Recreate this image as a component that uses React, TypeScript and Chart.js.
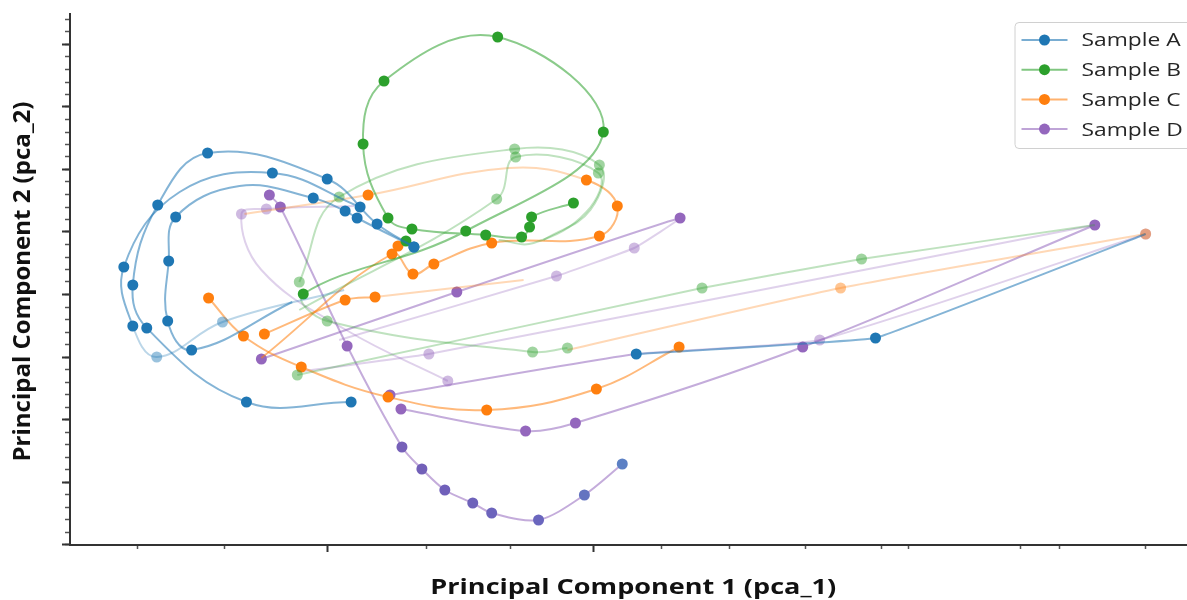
import React, { useEffect, useRef } from 'react';
import { Chart, registerables } from 'chart.js';

Chart.register(...registerables);

// ---- categories / legend ----
const sampleNames = ['Sample A', 'Sample B', 'Sample C', 'Sample D'];
const xTitle = 'Principal Component 1 (pca_1)';
const yTitle = 'Principal Component 2 (pca_2)';

// ---- axis tick values (no labels shown in the reference) ----
const xMinorTicks = [0.68, 1.55, 3.58, 4.42, 5.93, 6.62, 7.38, 8.14, 8.41, 9.53, 9.93, 10.79];
const xMajorTicks = [2.58, 5.25];
const yMinorTicks = Array.from({ length: 43 }, (_, k) => +(0.005 + k * 0.125).toFixed(3));
const yMajorTicks = yMinorTicks.filter((_, k) => k % 5 === 0);

// ---- series: trajectories as [pca_1, pca_2] pairs ----
const sampleA_t1 = [[3.45, 2.98], [3.08, 3.21], [2.58, 3.66], [1.38, 3.92], [0.88, 3.40], [0.63, 2.60], [0.77, 2.17], [1.77, 1.43], [2.82, 1.43]];
const sampleA_t2 = [[2.91, 3.38], [2.03, 3.72], [1.10, 3.53], [0.54, 2.78], [0.63, 2.19], [0.87, 1.88], [1.53, 2.23], [2.75, 2.55]];
const sampleA_t3 = [[3.45, 2.98], [2.88, 3.27], [2.76, 3.34], [2.44, 3.47], [1.70, 3.59], [1.06, 3.28], [0.99, 2.84], [0.98, 2.24], [1.22, 1.95], [2.23, 2.43]];
const sampleA_t4 = [[5.68, 1.91], [8.08, 2.07], [10.79, 3.11]];

const sampleB_t1 = [[5.05, 3.42], [4.63, 3.28], [4.61, 3.18], [4.53, 3.08], [4.17, 3.10], [3.43, 3.16], [3.19, 3.27], [2.94, 4.01], [3.15, 4.64], [4.29, 5.08], [5.35, 4.13], [3.97, 3.14], [2.34, 2.51], [2.58, 2.24], [4.64, 1.93], [4.99, 1.97]];
const sampleB_t2 = [[2.30, 2.63], [2.70, 3.48], [4.46, 3.96], [5.31, 3.80], [5.22, 3.35], [4.75, 3.05]];
const sampleB_t3 = [[2.30, 2.35], [4.28, 3.46], [4.47, 3.88], [5.30, 3.72], [5.18, 3.33], [4.65, 3.02], [4.30, 3.05]];
const sampleB_t4 = [[2.28, 1.70], [6.34, 2.57], [7.94, 2.86], [10.28, 3.20]];
const sampleB_t5 = [[3.37, 3.04]];

const sampleC_t1 = [[1.39, 2.47], [1.74, 2.09], [2.32, 1.78], [3.19, 1.48], [4.18, 1.35], [5.28, 1.56], [6.11, 1.98]];
const sampleC_t2 = [[1.95, 2.11], [2.76, 2.45], [3.06, 2.48], [4.55, 2.65]];
const sampleC_t3 = [[1.92, 1.87], [3.23, 2.91], [3.44, 2.71], [3.65, 2.81], [4.23, 3.02], [5.31, 3.09], [5.49, 3.39], [5.18, 3.65], [4.40, 3.77], [2.99, 3.50], [1.75, 3.31]];
const sampleC_t4 = [[4.99, 1.95], [7.73, 2.57], [10.79, 3.11]];
const sampleC_t5 = [[3.29, 2.99]];

const sampleD_t1 = [[2.00, 3.50], [2.11, 3.38], [2.78, 1.99], [3.33, 0.98], [3.53, 0.76], [3.76, 0.55], [4.04, 0.42], [4.23, 0.32], [4.70, 0.25], [5.16, 0.50], [5.54, 0.81]];
const sampleD_t2 = [[2.85, 3.39], [1.97, 3.36], [1.72, 3.31], [1.92, 2.75], [2.77, 2.15], [3.79, 1.64]];
const sampleD_t3 = [[2.28, 1.73], [3.60, 1.91], [10.28, 3.20]];
const sampleD_t4 = [[1.92, 1.86], [3.88, 2.53], [6.12, 3.27], [5.66, 2.97], [4.88, 2.69], [2.70, 2.05]];
const sampleD_t5 = [[3.32, 1.36], [4.57, 1.14], [5.07, 1.22], [7.35, 1.98], [10.28, 3.20]];
const sampleD_t6 = [[3.21, 1.50], [5.68, 1.91], [7.52, 2.05], [10.79, 3.11]];

// ---- styles (kept apart from the data) ----
const sampleRGB = ['31,119,180', '44,160,44', '255,127,14', '148,103,189'];

type Traj = {
  s: number; pts: number[][]; light?: number[]; hidden?: number[]; fade?: number; faint?: boolean; tension: number;
  tint?: Record<number, string>;
};

const trajectories: Traj[] = [
  { s: 0, pts: sampleA_t1, tension: 0.4 },
  { s: 0, pts: sampleA_t2, light: [5, 6], hidden: [2, 7], fade: 4, tension: 0.4 },
  { s: 0, pts: sampleA_t3, hidden: [4, 9], tension: 0.4 },
  { s: 0, pts: sampleA_t4, hidden: [2], tension: 0.05 },
  { s: 1, pts: sampleB_t2, light: [0, 1, 2, 3], hidden: [4, 5], faint: true, tension: 0.4 },
  { s: 1, pts: sampleB_t3, light: [1, 2, 3], hidden: [0, 4, 5, 6], faint: true, tension: 0.4 },
  { s: 1, pts: sampleB_t4, light: [0, 1, 2], hidden: [3], faint: true, tension: 0.1 },
  { s: 1, pts: sampleB_t1, light: [13, 14, 15], fade: 12, tension: 0.4 },
  { s: 1, pts: sampleB_t5, tension: 0 },
  { s: 2, pts: sampleC_t4, light: [1, 2], hidden: [0], faint: true, tension: 0.2 },
  { s: 2, pts: sampleC_t1, tension: 0.4 },
  { s: 2, pts: sampleC_t2, hidden: [3], fade: 2, tension: 0.3 },
  { s: 2, pts: sampleC_t3, hidden: [0, 8, 10], fade: 7, tension: 0.4 },
  { s: 2, pts: sampleC_t5, tension: 0 },
  { s: 3, pts: sampleD_t2, light: [1, 2, 5], hidden: [0, 3, 4], faint: true, tension: 0.4 },
  { s: 3, pts: sampleD_t3, light: [1], hidden: [0, 2], faint: true, tension: 0.1 },
  { s: 3, pts: sampleD_t4, light: [3, 4], hidden: [5], fade: 2, tension: 0.1 },
  { s: 3, pts: sampleD_t6, light: [2, 3], hidden: [1], fade: 1, tension: 0.15 },
  { s: 3, pts: sampleD_t5, tension: 0.3 },
  {
    s: 3, pts: sampleD_t1, tension: 0.3,
    tint: { 3: '118,96,184', 4: '114,96,184', 5: '112,96,186', 6: '110,98,186', 7: '108,100,188', 8: '106,102,190', 9: '100,116,192', 10: '92,128,196' },
  },
];

const textStretch = 1.2; // reference text is drawn wider than tall

const titlesPlugin = {
  id: 'axisTitles',
  afterDraw(chart: any) {
    const { ctx, chartArea } = chart;
    ctx.save();
    ctx.fillStyle = '#111';
    ctx.textAlign = 'center';
    ctx.textBaseline = 'middle';
    // x title
    ctx.save();
    ctx.translate((chartArea.left + chartArea.right) / 2 + 1, chartArea.bottom + 43);
    ctx.scale(1.23, 1);
    ctx.font = 'bold 22px "Open Sans"';
    ctx.fillText(xTitle, 0, 0);
    ctx.restore();
    // y title
    ctx.save();
    ctx.translate(23, (chartArea.top + chartArea.bottom) / 2 + 2);
    ctx.rotate(-Math.PI / 2);
    ctx.font = 'bold 24px "Open Sans"';
    ctx.fillText(yTitle, 0, 0);
    ctx.restore();
    ctx.restore();
  },
};

const legendPlugin = {
  id: 'sampleLegend',
  afterDraw(chart: any) {
    const { ctx, chartArea } = chart;
    const x0 = chartArea.right - 180;
    const y0 = chartArea.top + 8;
    ctx.save();
    ctx.beginPath();
    ctx.roundRect(x0 + 0.5, y0 + 0.5, 240, 126, 4);
    ctx.fillStyle = 'rgba(255,255,255,0.85)';
    ctx.fill();
    ctx.strokeStyle = '#d0d0d0';
    ctx.lineWidth = 1;
    ctx.stroke();
    sampleNames.forEach((name, i) => {
      const cy = y0 + 18 + i * 29.7;
      const rgb = sampleRGB[i];
      ctx.beginPath();
      ctx.moveTo(x0 + 7, cy);
      ctx.lineTo(x0 + 53, cy);
      ctx.strokeStyle = `rgba(${rgb},0.6)`;
      ctx.lineWidth = 2;
      ctx.stroke();
      ctx.beginPath();
      ctx.arc(x0 + 30, cy, 5.5, 0, Math.PI * 2);
      ctx.fillStyle = `rgb(${rgb})`;
      ctx.fill();
      ctx.save();
      ctx.translate(x0 + 67, cy + 1);
      ctx.scale(textStretch, 1);
      ctx.fillStyle = '#262626';
      ctx.font = '19px "Open Sans"';
      ctx.textBaseline = 'middle';
      ctx.textAlign = 'left';
      ctx.fillText(name, 0, 0);
      ctx.restore();
    });
    ctx.restore();
  },
};

export default function App() {
  const ref = useRef<HTMLCanvasElement | null>(null);

  useEffect(() => {
    if (!ref.current) return;
    const datasets = trajectories.map((t) => {
      const rgb = sampleRGB[t.s];
      const light = new Set(t.light || []);
      const hidden = new Set(t.hidden || []);
      const fade = t.fade ?? Infinity;
      const lineA = t.faint ? 0.3 : 0.55;
      return {
        label: sampleNames[t.s],
        data: t.pts.map(([x, y]) => ({ x, y })),
        showLine: true,
        tension: t.tension,
        borderWidth: 2,
        borderColor: `rgba(${rgb},${lineA})`,
        segment: {
          borderColor: (c: any) => (c.p0DataIndex >= fade ? `rgba(${rgb},0.3)` : undefined),
        },
        pointRadius: t.pts.map((_, i) => (hidden.has(i) ? 0 : 5.5)),
        pointBackgroundColor: t.pts.map((_, i) => {
          const c = (t.tint && t.tint[i]) || rgb;
          return `rgba(${c},${light.has(i) ? 0.45 : 1})`;
        }),
        pointBorderWidth: 0,
      };
    });

    const chart = new Chart(ref.current, {
      type: 'scatter',
      data: { datasets },
      plugins: [titlesPlugin, legendPlugin],
      options: {
        responsive: false,
        animation: false,
        devicePixelRatio: 1,
        events: [],
        layout: { padding: { top: 14, right: 2, left: 0, bottom: 0 } },
        plugins: { legend: { display: false }, tooltip: { enabled: false } },
        scales: {
          x: {
            type: 'linear',
            axis: 'x',
            position: 'bottom',
            min: 0,
            max: 11.28,
            afterBuildTicks: (s: any) => { s.ticks = xMinorTicks.map((v) => ({ value: v })); },
            afterFit: (s: any) => { s.height = 55; },
            ticks: { display: false, autoSkip: false },
            grid: { display: true, drawOnChartArea: false, drawTicks: true, tickLength: 4, tickColor: '#555', tickWidth: 1.5 },
            border: { display: true, color: '#333', width: 2 },
          },
          y: {
            type: 'linear',
            axis: 'y',
            position: 'left',
            min: 0,
            max: 5.31,
            afterBuildTicks: (s: any) => { s.ticks = yMinorTicks.map((v) => ({ value: v })); },
            afterFit: (s: any) => { s.width = 70; },
            ticks: { display: false, autoSkip: false },
            grid: { display: true, drawOnChartArea: false, drawTicks: true, tickLength: 5, tickColor: '#555', tickWidth: 1.5 },
            border: { display: true, color: '#333', width: 2 },
          },
          xMajor: {
            type: 'linear',
            axis: 'x',
            position: { y: 0 },
            min: 0,
            max: 11.28,
            afterBuildTicks: (s: any) => { s.ticks = xMajorTicks.map((v) => ({ value: v })); },
            ticks: { display: false, autoSkip: false },
            grid: { display: true, drawOnChartArea: false, drawTicks: true, tickLength: 7, tickColor: '#333', tickWidth: 2 },
            border: { display: false },
          },
          yMajor: {
            type: 'linear',
            axis: 'y',
            position: { x: 0 },
            min: 0,
            max: 5.31,
            afterBuildTicks: (s: any) => { s.ticks = yMajorTicks.map((v) => ({ value: v })); },
            ticks: { display: false, autoSkip: false },
            grid: { display: true, drawOnChartArea: false, drawTicks: true, tickLength: 8, tickColor: '#333', tickWidth: 2 },
            border: { display: false },
          },
        },
      } as any,
    });
    return () => chart.destroy();
  }, []);

  return (
    <div style={{ position: 'fixed', left: 0, top: 0, width: 1187, height: 600, overflow: 'hidden', background: '#fff' }}>
      <canvas ref={ref} width={1200} height={600} style={{ display: 'block', width: 1200, height: 600 }} />
    </div>
  );
}
